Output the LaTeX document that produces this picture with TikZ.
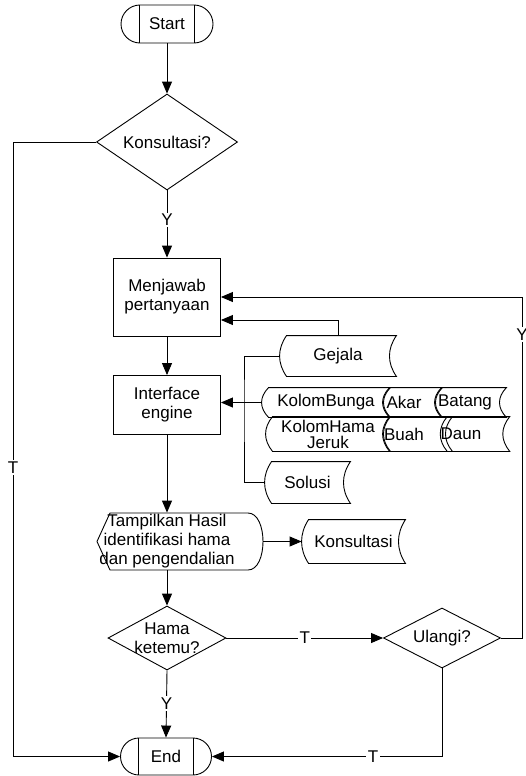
\documentclass[tikz,border=0pt]{standalone}
\usepackage{fontspec}
\setmainfont{Liberation Sans}
\usepackage{tikz}
\usetikzlibrary{shapes.geometric,shapes.misc,arrows.meta,calc}

\newcommand{\fs}{\fontsize{17pt}{19pt}\selectfont}

% stored data: [text shift] name, position, width, height, text
\newcommand{\storedata}[6][0pt]{%
  \node[dbtext, minimum width=#4, minimum height=#5] (#2) at (#3) {#6\hspace*{#1}};
  \draw ([xshift=7pt]#2.south west) .. controls ([xshift=-2.3pt, yshift=#5/3]#2.south west)
    and ([xshift=-2.3pt, yshift=-#5/3]#2.north west) .. ([xshift=7pt]#2.north west)
    -- (#2.north east) .. controls ([xshift=-9.3pt, yshift=-#5/3]#2.north east)
    and ([xshift=-9.3pt, yshift=#5/3]#2.south east) .. (#2.south east) -- cycle;
}

\begin{document}
\begin{tikzpicture}[x=1pt, y=1pt, line width=0.9pt, font=\fs,
  arr/.style={-{Triangle[length=12pt, width=10pt]}},
  term/.style={rounded rectangle, draw, minimum width=92, minimum height=38, inner sep=0pt},
  proc/.style={rectangle, draw, minimum width=107, inner sep=0pt, align=center},
  decision/.style={diamond, draw, inner sep=0pt, align=center},
  dbtext/.style={inner sep=0pt, align=center},
  lbl/.style={fill=white, inner sep=1.5pt}]

  \useasboundingbox (0,0) rectangle (526,-776);

  %% main column
  \node[term] (start) at (167,-24) {Start};
  \draw ([xshift=-27.5]start.north) -- ([xshift=-27.5]start.south);
  \draw ([xshift=27.5]start.north) -- ([xshift=27.5]start.south);

  \node[decision, minimum width=141, minimum height=96, aspect=1.47] (kons) at (167,-142) {Konsultasi?};
  \node[proc, minimum height=78] (jawab) at (167,-297) {Menjawab\\pertanyaan};
  \node[proc, minimum height=59] (engine) at (167,-405) {Interface\\engine};

  \node[inner sep=0pt, align=center, minimum width=192, minimum height=57] (hasil) at (167,-541.5)
    {Tampilkan Hasil\\identifikasi hama\\dan pengendalian};
  \draw[shift={(hasil.center)}] (-57,28.5) -- (81,28.5) .. controls (101,28.5) and (101,-28.5) .. (81,-28.5)
    -- (-57,-28.5) -- (-70,0) -- cycle;

  \node[decision, minimum width=118, minimum height=64, aspect=1.84, inner sep=-4pt] (hama) at (167,-638) {Hama\\ketemu?};
  \node[decision, minimum width=117, minimum height=60, aspect=1.95] (ulangi) at (442,-638) {Ulangi?};

  \node[term, minimum width=91, minimum height=37] (stop) at (166,-756.5) {End};
  \draw ([xshift=-27.5]stop.north) -- ([xshift=-27.5]stop.south);
  \draw ([xshift=27.5]stop.north) -- ([xshift=27.5]stop.south);

  %% data stores
  \storedata{gejala}{338,-356}{116}{40}{Gejala}
  \storedata{kbunga}{326,-402.5}{128}{29}{KolomBunga}
  \storedata[17pt]{akar}{412.5,-402.5}{59}{29}{Akar}
  \storedata[11pt]{batang}{470.5,-402.5}{71}{29}{Batang}
  \storedata{khama}{328,-434}{124}{34}{KolomHama\\[-3pt]Jeruk}
  \storedata[27pt]{buah}{417.5,-434}{69}{34}{Buah}
  \storedata[28pt]{daun}{475,-434}{60}{34}{Daun}
  \storedata{solusi}{307.5,-482.5}{85}{41}{Solusi}
  \storedata{konsout}{353.5,-541.5}{103}{43}{Konsultasi}

  %% connectors
  \draw[arr] (start.south) -- (kons.north);
  \draw[arr] (kons.south) -- node[lbl, pos=0.44]{Y} (jawab.north);
  \draw[arr] (jawab.south) -- (engine.north);
  \draw[arr] (engine.south) -- (hasil.north);
  \draw[arr] (hasil.south) -- (hama.north);
  \draw[arr] (hama.south) -- node[lbl, pos=0.49]{Y} (stop.north);
  \draw[arr] (hama.east) -- node[lbl]{T} (ulangi.west);
  \draw[arr] (ulangi.south) |- node[lbl, pos=0.65]{T} (stop.east);
  \draw[arr] (hasil.east) -- (konsout.west);

  \coordinate (lft) at (13,-142);
  \draw[arr] (kons.west) -- (lft) -- node[lbl, pos=0.53]{T} (lft |- stop.west) -- (stop.west); % Konsultasi -> End

  \coordinate (rgt) at (522,-297);
  \draw[arr] (ulangi.east) -- (ulangi.east -| rgt) -- node[lbl, pos=0.89]{Y} (rgt) -- (jawab.east); % Ulangi -> Menjawab

  \draw[arr] (gejala.north) |- ([yshift=-23]jawab.east);
  \coordinate (jn) at (244,-402.5);
  \draw (gejala.west) -| (jn) |- (solusi.west);
  \draw[arr] (kbunga.west) -- (kbunga.west -| engine.east);

\end{tikzpicture}
\end{document}
